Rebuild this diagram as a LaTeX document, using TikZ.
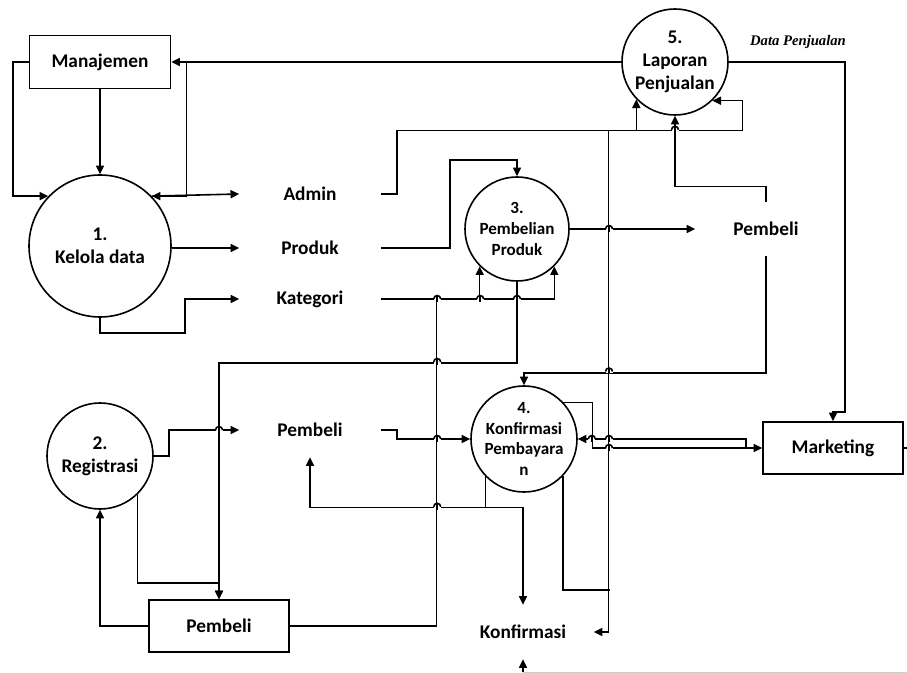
\documentclass[tikz,border=0pt]{standalone}
\usepackage{fontspec}
\setmainfont{Carlito}
\newfontfamily\timesfont{Liberation Serif}
\usetikzlibrary{calc,arrows.meta}

\newcommand{\hop}[1]{%
  \fill[white] ($#1+(-3.5,-1.8)$) rectangle ($#1+(3.5,1.8)$);
  \draw ($#1+(0,-3)$) -- ($#1+(0,3)$);
  \draw ($#1+(-3.5,0)$) arc[start angle=180,end angle=360,radius=3.5];}

\tikzset{
  flow/.style={-{Triangle[length=6.5pt,width=6pt]}},
  proc/.style={circle,draw,inner sep=-3pt,align=center,font=\bfseries\fontsize{14.5}{17}\selectfont},
  procsm/.style={proc,font=\bfseries\fontsize{12.8}{15.5}\selectfont},
  ent/.style={draw,minimum width=105.75pt,minimum height=39.75pt,font=\bfseries\fontsize{14.5}{17}\selectfont},
  store/.style={inner sep=0pt,minimum width=105pt,minimum height=39.75pt,font=\bfseries\fontsize{14.5}{17}\selectfont}
}

\begin{document}
\begin{tikzpicture}[x=0.75pt,y=-0.75pt,line width=1.2pt]
\useasboundingbox (0,0) rectangle (907,673);

\node[ent] (mgmt) at (100,62) {Manajemen};
\node[proc,minimum size=106.5pt] (p1) at (100,246) {1.\\Kelola data};
\node[proc,minimum size=79.5pt] (p2) at (100,456) {2.\\Registrasi};
\node[procsm,minimum size=78pt] (p3) at (517,229) {3.\\Pembelian\\Produk};
\node[procsm,minimum size=79.5pt] (p4) at (524,439) {4.\\Konfirmasi\\Pembayara\\n};
\node[proc,minimum size=79.5pt] (p5) at (675,62) {5.\\Laporan\\Penjualan};
\node[ent,minimum width=105pt,minimum height=39pt] (mkt) at (833,448) {Marketing};
\node[ent,minimum width=105pt,minimum height=39pt] (cust) at (219,626) {Pembeli};

\node[store] (adm) at (310,194) {Admin};
\node[store] (prd) at (310,248) {Produk};
\node[store] (kat) at (310,299) {Kategori};
\node[store] (pbB) at (310,430) {Pembeli};
\node[store] (pbA) at (766,229) {Pembeli};
\node[store] (konf) at (523,632) {Konfirmasi};
\node[font=\timesfont\bfseries\itshape\fontsize{11}{13}\selectfont] (dp) at (798,42) {Data Penjualan};

\coordinate (m1) at ($(mgmt.east)+(15,0)$);
\coordinate (bus) at ($(p5.224)+(-28,31)$);

\draw[flow,line width=2.2pt] (p5.west) -- (mgmt.east);
\draw[flow] (mgmt.west) -- ++(-16,0) |- (p1.136);
\draw[flow] (mgmt.south) -- (p1.north);
\draw[flow] (m1) |- (p1.44);
\draw[flow] (p1.44) -- (adm.west);
\draw[flow] (p1.east |- prd) -- (prd.west);
\draw[flow] (p1.south) -- ++(0,15) -| ($(kat.west)+(-54,0)$) -- (kat.west);

\draw[flow] (adm.east) -- ++(16,0) |- ($(p5.224)+(0,31)$) -- (p5.224);
\draw[flow] ($(p5.224)+(0,31)$) -- ++(106,0) |- (p5.314);
\draw[flow] (bus) |- (konf.east);
\draw[flow] (pbA.north) -- ++(0,-15) -| (p5.south);
\draw[flow] (p5.east) -| ($(mkt.north)+(12,-9)$) -| (mkt.north);

\draw[flow] (prd.east) -- ++(69,0) |- ($(p3.north)+(0,-16)$) -- (p3.north);
\draw[flow] (kat.east) -| (p3.315);
\draw[flow] (cust.east) -| ($(p3.225)+(-43,33)$) -| (p3.225);
\draw[flow] (p3.south) -- ++(0,81) -| (cust.north);
\draw[flow] (p3.east) -- (pbA.west);
\draw[flow] (pbA.south) -- ++(0,117) -| (p4.north);

\draw[flow] (p2.east) -- ++(15,0) |- (pbB.west);
\draw[flow] (p2.314) |- ($(cust.north)+(0,-16)$) -- (cust.north);
\draw[flow] (cust.west) -| (p2.south);

\draw[flow] (pbB.east) -- ++(16,0) |- (p4.west);
\draw[flow] (p4.224) -- ++(0,31) -| (pbB.south);
\draw[flow] ($(p4.224)+(0,31)$) -| (konf.north);
\draw (p4.316) |- ($(konf.east)+(16,-42)$);
\draw[flow] (p4.43) -- ++(29,0) |- (mkt.west);
\draw[flow] ($(mkt.west)+(-16,0)$) |- (p4.east);
\draw (mkt.east) -- ++(5,0);

\draw[flow] ($(konf.south)+(0,13)$) -- (konf.south);
\draw[black!20,line width=0.6pt] ($(konf.south)+(0,13)$) -- ++(384,0);

\hop{(675,129.8)}
\hop{(609,229)}
\hop{(609,371.5)}
\hop{(609,439)}
\hop{(609,448)}
\hop{(591.8,439)}
\hop{(437.2,299)}
\hop{(480.2,299)}
\hop{(517,299)}
\hop{(437.2,362)}
\hop{(219,430)}
\hop{(437.2,439)}
\hop{(437.2,506.8)}
\end{tikzpicture}
\end{document}
